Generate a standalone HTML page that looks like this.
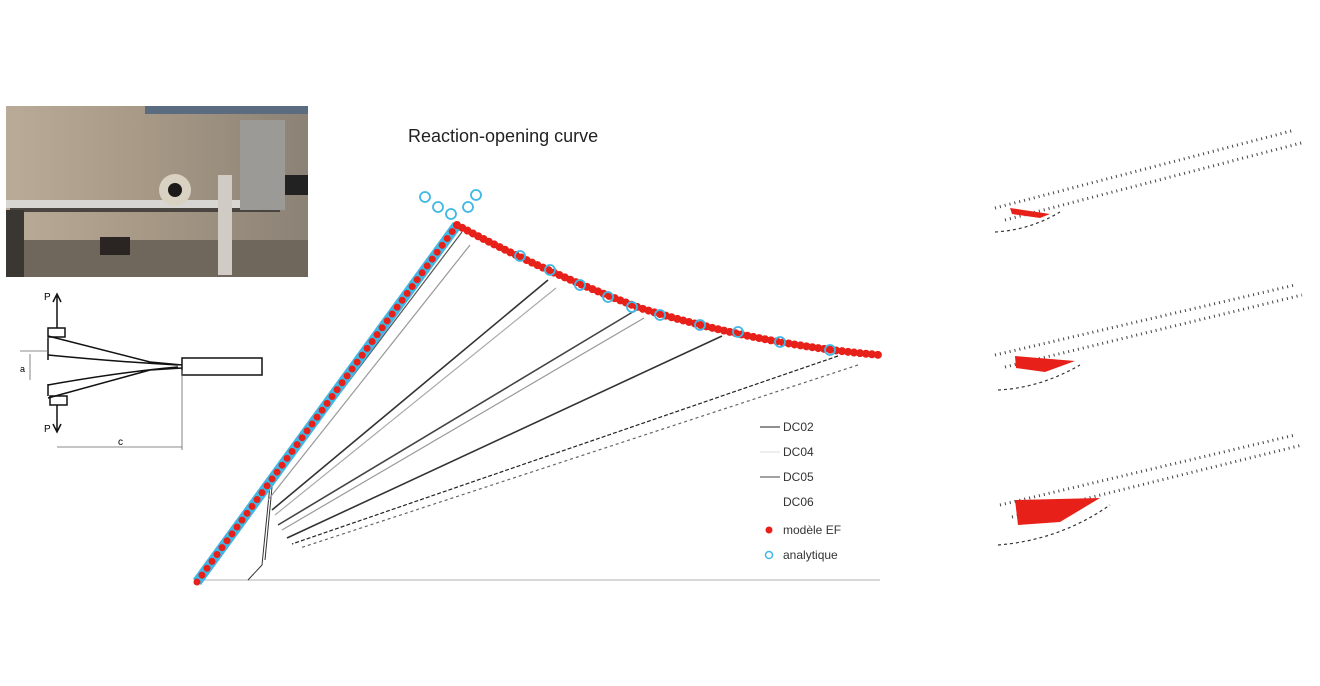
<!DOCTYPE html>
<html><head><style>body{margin:0;background:#fff}svg{display:block}</style></head><body>
<svg width="1320" height="686" viewBox="0 0 1320 686" xmlns="http://www.w3.org/2000/svg" font-family="Liberation Sans, sans-serif">
<defs>
<linearGradient id="ph" x1="0" y1="0" x2="1" y2="0"><stop offset="0" stop-color="#b9ab98"/><stop offset="0.5" stop-color="#a59784"/><stop offset="1" stop-color="#8b8276"/></linearGradient>
</defs>
<rect x="6" y="106" width="302" height="171" fill="url(#ph)"/>
<rect x="145" y="106" width="163" height="8" fill="#5b6b80"/>
<rect x="6" y="240" width="302" height="37" fill="#6f675c"/>
<rect x="100" y="237" width="30" height="18" fill="#2a2522"/>
<rect x="6" y="200" width="270" height="8" fill="#d8d6d2"/>
<rect x="10" y="208" width="270" height="4" fill="#4a4540"/>
<circle cx="175" cy="190" r="16" fill="#d9d2c2"/><circle cx="175" cy="190" r="7" fill="#1c1a18"/>
<rect x="218" y="175" width="14" height="100" fill="#d0cbc4"/>
<rect x="240" y="120" width="45" height="90" fill="#9c9a96"/>
<rect x="285" y="175" width="23" height="20" fill="#222"/>
<rect x="6" y="210" width="18" height="67" fill="#3a3632"/>
<g stroke="#111" fill="none" stroke-width="1.5">
<path d="M48 338 L48 360 M48 384 L48 396"/>
<path d="M48 336 L150 362 L182 365 M48 355 Q120 362 178 365"/>
<path d="M48 385 Q120 372 178 367 M48 398 L150 370 L182 368"/>
<rect x="182" y="358" width="80" height="17"/>
<rect x="48" y="328" width="17" height="9"/><rect x="50" y="396" width="17" height="9"/>
<path d="M57 328 L57 296 M53 302 L57 294 L61 302"/>
<path d="M57 405 L57 430 M53 424 L57 432 L61 424"/>
</g>
<path d="M20 351 H48 M30 354 V380 M182 370 V450 M57 447 H182" stroke="#666" stroke-width="0.8" fill="none"/>
<text x="44" y="300" font-size="10">P</text><text x="44" y="432" font-size="10">P</text><text x="118" y="445" font-size="10">c</text><text x="20" y="372" font-size="9">a</text>
<text x="408" y="142" font-size="18" fill="#222">Reaction-opening curve</text>
<line x1="200" y1="580" x2="880" y2="580" stroke="#ccc" stroke-width="1.5"/>
<g fill="none" stroke-width="1.2">
<path d="M270 485 L262 565 L248 580 M272 487 L265 560" stroke="#333" stroke-width="1"/>
<path d="M462 232 L265 492" stroke="#555"/>
<path d="M470 245 L268 500" stroke="#999"/>
<path d="M548 280 L272 510" stroke="#333" stroke-width="1.6"/>
<path d="M556 288 L275 515" stroke="#aaa"/>
<path d="M636 310 L278 525" stroke="#444" stroke-width="1.6"/>
<path d="M644 318 L282 530" stroke="#999"/>
<path d="M722 336 L287 538" stroke="#333" stroke-width="1.6"/>
<path d="M838 356 L292 544" stroke="#222" stroke-dasharray="4 2"/>
<path d="M858 365 L300 548" stroke="#666" stroke-dasharray="3 3"/>
</g>
<path d="M197 582 L457 225" stroke="#3fb8e6" stroke-width="10" fill="none"/>
<path d="M197 582 L457 225" stroke="#e8201a" stroke-width="7" stroke-dasharray="0 8.5" stroke-linecap="round" fill="none"/>
<path d="M457 225 Q540 270 640 308 Q760 345 880 355" stroke="#e8201a" stroke-width="8" stroke-dasharray="0 6" stroke-linecap="round" fill="none"/>
<g fill="none" stroke="#3fb8e6" stroke-width="1.8">
<circle cx="425" cy="197" r="5"/><circle cx="438" cy="207" r="5"/><circle cx="451" cy="214" r="5"/><circle cx="476" cy="195" r="5"/><circle cx="468" cy="207" r="5"/>
<circle cx="520" cy="256" r="5"/><circle cx="550" cy="270" r="5"/><circle cx="580" cy="285" r="5"/><circle cx="608" cy="297" r="5"/><circle cx="632" cy="307" r="5"/><circle cx="660" cy="315" r="5"/><circle cx="700" cy="325" r="5"/><circle cx="738" cy="332" r="5"/><circle cx="780" cy="342" r="5"/><circle cx="830" cy="350" r="5"/>
</g>
<g font-size="12" fill="#333">
<line x1="760" y1="427" x2="780" y2="427" stroke="#222"/><text x="783" y="431">DC02</text>
<line x1="760" y1="452" x2="780" y2="452" stroke="#ddd"/><text x="783" y="456">DC04</text>
<line x1="760" y1="477" x2="780" y2="477" stroke="#444"/><text x="783" y="481">DC05</text>
<text x="783" y="506">DC06</text>
<circle cx="769" cy="530" r="3.5" fill="#e8201a"/><text x="783" y="534">modèle EF</text>
<circle cx="769" cy="555" r="3.5" fill="none" stroke="#3fb8e6" stroke-width="1.5"/><text x="783" y="559">analytique</text>
</g>
<g fill="none" stroke="#444" stroke-width="3" stroke-dasharray="1 4">
<path d="M995 208 L1295 130 M1005 220 L1305 142"/>
<path d="M995 355 L1295 285 M1005 367 L1302 295"/>
<path d="M1000 505 L1295 435 M1012 517 L1302 445"/>
</g>
<g fill="none" stroke="#333" stroke-width="1.2" stroke-dasharray="3 3">
<path d="M995 232 Q1030 230 1060 212"/>
<path d="M998 390 Q1040 388 1080 365"/>
<path d="M998 545 Q1060 540 1110 505"/>
</g>
<polygon points="1010,208 1050,214 1040,218 1012,214" fill="#e8201a"/>
<polygon points="1015,356 1075,361 1045,372 1016,368" fill="#e8201a"/>
<polygon points="1015,500 1100,498 1060,522 1018,525" fill="#e8201a"/>
</svg>
</body></html>
